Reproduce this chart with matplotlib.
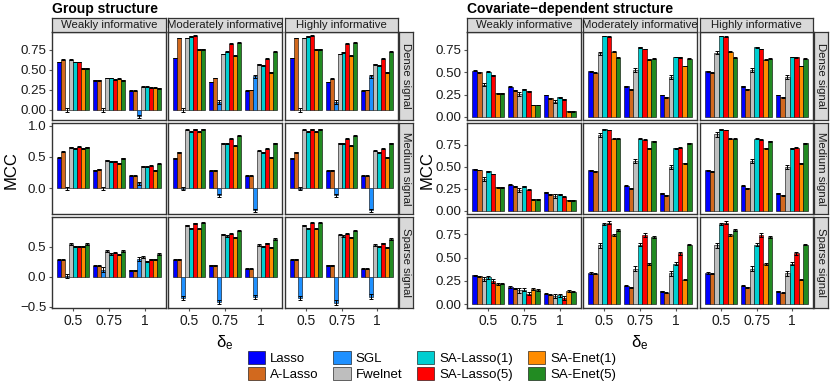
import matplotlib
matplotlib.use('Agg')
import matplotlib.pyplot as plt
import numpy as np
from matplotlib.patches import Patch

plt.rcParams['font.family'] = ['Liberation Sans', 'DejaVu Sans']

# categories
deltas = ['0.5', '0.75', '1']
info_levels = ['Weakly informative', 'Moderately informative', 'Highly informative']
signals = ['Dense signal', 'Medium signal', 'Sparse signal']

methods_group = ['Lasso', 'A-Lasso', 'SGL', 'Fwelnet', 'SA-Lasso(1)', 'SA-Lasso(5)', 'SA-Enet(1)', 'SA-Enet(5)']
methods_cov = ['Lasso', 'A-Lasso', 'Fwelnet', 'SA-Lasso(1)', 'SA-Lasso(5)', 'SA-Enet(1)', 'SA-Enet(5)']
colors = {'Lasso': '#0000FF', 'A-Lasso': '#D2691E', 'SGL': '#1E90FF', 'Fwelnet': '#BEBEBE',
          'SA-Lasso(1)': '#00CED1', 'SA-Lasso(5)': '#FF0000', 'SA-Enet(1)': '#FF8C00',
          'SA-Enet(5)': '#228B22'}

# Group structure: MCC[delta][method]
g_dense_weak = [[0.60, 0.63, 0.00, 0.63, 0.60, 0.60, 0.52, 0.52],
                [0.37, 0.37, 0.00, 0.40, 0.40, 0.38, 0.39, 0.37],
                [0.24, 0.24, -0.08, 0.29, 0.29, 0.28, 0.28, 0.27]]
g_dense_mod = [[0.65, 0.90, 0.00, 0.90, 0.92, 0.93, 0.76, 0.76],
               [0.35, 0.40, 0.10, 0.70, 0.73, 0.83, 0.68, 0.84],
               [0.24, 0.25, 0.42, 0.57, 0.56, 0.64, 0.47, 0.73]]
g_dense_high = [[0.65, 0.90, 0.00, 0.90, 0.92, 0.93, 0.76, 0.76],
                [0.35, 0.39, 0.10, 0.70, 0.72, 0.83, 0.68, 0.84],
                [0.24, 0.25, 0.42, 0.57, 0.56, 0.64, 0.47, 0.73]]
g_med_weak = [[0.49, 0.585, 0.00, 0.65, 0.64, 0.665, 0.64, 0.65],
              [0.29, 0.30, 0.00, 0.45, 0.43, 0.43, 0.40, 0.48],
              [0.20, 0.20, 0.08, 0.35, 0.34, 0.36, 0.29, 0.39]]
g_med_mod = [[0.48, 0.57, -0.01, 0.93, 0.90, 0.94, 0.90, 0.94],
             [0.28, 0.29, -0.11, 0.72, 0.71, 0.79, 0.675, 0.835],
             [0.20, 0.20, -0.35, 0.60, 0.57, 0.63, 0.495, 0.72]]
g_med_high = [[0.48, 0.57, -0.01, 0.93, 0.90, 0.94, 0.90, 0.94],
              [0.28, 0.29, -0.11, 0.72, 0.71, 0.79, 0.675, 0.835],
              [0.20, 0.20, -0.35, 0.60, 0.57, 0.63, 0.495, 0.72]]
g_sparse_weak = [[0.28, 0.28, 0.01, 0.545, 0.51, 0.51, 0.51, 0.545],
                 [0.18, 0.18, 0.12, 0.43, 0.38, 0.40, 0.37, 0.43],
                 [0.105, 0.105, 0.29, 0.33, 0.26, 0.29, 0.29, 0.38]]
g_sparse_mod = [[0.28, 0.29, -0.36, 0.86, 0.81, 0.89, 0.80, 0.90],
                [0.195, 0.195, -0.42, 0.71, 0.68, 0.72, 0.66, 0.77],
                [0.13, 0.13, -0.34, 0.53, 0.51, 0.56, 0.49, 0.63]]
g_sparse_high = [[0.28, 0.29, -0.36, 0.86, 0.81, 0.90, 0.80, 0.90],
                 [0.195, 0.195, -0.43, 0.70, 0.68, 0.72, 0.66, 0.77],
                 [0.13, 0.13, -0.33, 0.53, 0.51, 0.56, 0.49, 0.63]]
g_err_dense = [0.006, 0.006, 0.02, 0.006, 0.006, 0.006, 0.006, 0.006]
g_err_med = [0.008, 0.008, 0.025, 0.008, 0.008, 0.008, 0.008, 0.008]
g_err_sparse = [0.008, 0.008, 0.035, 0.01, 0.01, 0.01, 0.01, 0.01]

# Covariate-dependent structure: MCC[delta][method]
c_dense_weak = [[0.515, 0.50, 0.36, 0.505, 0.465, 0.265, 0.265],
                [0.335, 0.30, 0.255, 0.31, 0.285, 0.133, 0.133],
                [0.245, 0.21, 0.17, 0.22, 0.195, 0.063, 0.063]]
c_dense_mod = [[0.51, 0.495, 0.71, 0.905, 0.895, 0.73, 0.66],
               [0.34, 0.31, 0.525, 0.78, 0.76, 0.64, 0.65],
               [0.245, 0.22, 0.445, 0.67, 0.665, 0.57, 0.65]]
c_dense_high = [[0.51, 0.495, 0.72, 0.905, 0.895, 0.73, 0.66],
                [0.34, 0.31, 0.525, 0.78, 0.76, 0.64, 0.65],
                [0.245, 0.22, 0.445, 0.67, 0.665, 0.57, 0.65]]
c_med_weak = [[0.475, 0.465, 0.365, 0.45, 0.42, 0.27, 0.27],
              [0.30, 0.28, 0.24, 0.28, 0.24, 0.135, 0.135],
              [0.21, 0.19, 0.17, 0.19, 0.16, 0.12, 0.12]]
c_med_mod = [[0.46, 0.45, 0.865, 0.93, 0.92, 0.82, 0.82],
             [0.285, 0.26, 0.57, 0.82, 0.81, 0.71, 0.79],
             [0.20, 0.18, 0.50, 0.71, 0.72, 0.54, 0.77]]
c_med_high = [[0.46, 0.45, 0.87, 0.93, 0.92, 0.82, 0.82],
              [0.285, 0.26, 0.57, 0.82, 0.81, 0.71, 0.79],
              [0.20, 0.18, 0.50, 0.71, 0.72, 0.54, 0.77]]
c_sparse_weak = [[0.31, 0.30, 0.27, 0.29, 0.25, 0.215, 0.22],
                 [0.185, 0.17, 0.15, 0.155, 0.115, 0.16, 0.155],
                 [0.115, 0.10, 0.09, 0.095, 0.065, 0.145, 0.135]]
c_sparse_mod = [[0.335, 0.325, 0.63, 0.86, 0.875, 0.74, 0.795],
                [0.20, 0.18, 0.38, 0.64, 0.74, 0.43, 0.72],
                [0.14, 0.125, 0.33, 0.435, 0.545, 0.265, 0.64]]
c_sparse_high = [[0.335, 0.325, 0.63, 0.86, 0.875, 0.74, 0.795],
                 [0.20, 0.18, 0.38, 0.64, 0.74, 0.43, 0.72],
                 [0.14, 0.125, 0.33, 0.435, 0.545, 0.265, 0.64]]
c_err_dense = [0.005, 0.005, 0.02, 0.005, 0.005, 0.005, 0.005]
c_err_med = [0.005, 0.005, 0.025, 0.005, 0.005, 0.006, 0.006]
c_err_sparse = [0.006, 0.006, 0.025, 0.015, 0.02, 0.01, 0.008]

group_data = [[g_dense_weak, g_dense_mod, g_dense_high],
              [g_med_weak, g_med_mod, g_med_high],
              [g_sparse_weak, g_sparse_mod, g_sparse_high]]
group_err = [g_err_dense, g_err_med, g_err_sparse]
cov_data = [[c_dense_weak, c_dense_mod, c_dense_high],
            [c_med_weak, c_med_mod, c_med_high],
            [c_sparse_weak, c_sparse_mod, c_sparse_high]]
cov_err = [c_err_dense, c_err_med, c_err_sparse]

W, H = 830, 381
fig = plt.figure(figsize=(W / 100, H / 100), dpi=100)

rows_px = [(32, 120), (123, 214), (217, 308)]
strip_top = 18
group_cols = [(52, 166), (168, 282), (285, 398)]
cov_cols = [(467, 581), (583, 697), (700, 813)]

group_ylims = [(-0.125, 0.975), (-0.41, 1.04), (-0.52, 0.995)]
group_yticks = [([0, 0.25, 0.5, 0.75], '{:.2f}'), ([0, 0.5, 1.0], '{:.1f}'), ([-0.5, 0, 0.5], '{:.1f}')]
cov_ylims = [(-0.035, 0.95), (-0.035, 1.0), (-0.04, 0.935)]
cov_yticks = [([0, 0.25, 0.5, 0.75], '{:.2f}')] * 3

edge = '#333333'
strip_fc = '#D9D9D9'


def add_ax(x0, x1, y0, y1):
    return fig.add_axes([x0 / W, 1 - y1 / H, (x1 - x0) / W, (y1 - y0) / H])


def strip(x0, x1, y0, y1, text, rot=0):
    a = add_ax(x0, x1, y0, y1)
    a.set_xticks([])
    a.set_yticks([])
    a.set_facecolor(strip_fc)
    for s in a.spines.values():
        s.set_color(edge)
        s.set_linewidth(0.9)
    a.text(0.5, 0.5, text, ha='center', va='center', rotation=rot,
           fontsize=8.2, color='#1A1A1A', transform=a.transAxes)


def draw_panel(cols, data, errs, methods, ylims, yticks, title, right_strip_x):
    n = len(methods)
    w = 0.9 / n
    x = np.arange(len(deltas))
    for r, (y0, y1) in enumerate(rows_px):
        for c, (x0, x1) in enumerate(cols):
            ax = add_ax(x0, x1, y0, y1)
            vals = np.array(data[r][c])
            for i, m in enumerate(methods):
                ax.bar(x + (i - (n - 1) / 2) * w, vals[:, i], width=w,
                       color=colors[m], edgecolor='black', linewidth=0.4)
                ax.errorbar(x + (i - (n - 1) / 2) * w, vals[:, i], yerr=errs[r][i],
                            fmt='none', ecolor='black', elinewidth=0.7, capsize=1.2,
                            capthick=0.7)
            ax.set_xlim(-0.6, 2.6)
            ax.set_ylim(*ylims[r])
            for s in ax.spines.values():
                s.set_color(edge)
                s.set_linewidth(1.0)
            if c == 0:
                ticks, fmt = yticks[r]
                ax.set_yticks(ticks)
                ax.set_yticklabels([fmt.format(t).replace('-', '\u2212') for t in ticks],
                                   fontsize=9.6, color='#1A1A1A')
                ax.tick_params(axis='y', length=2.5, color='#555555', pad=1.5)
            else:
                ax.set_yticks([])
            if r == 2:
                ax.set_xticks(x)
                ax.set_xticklabels(deltas, fontsize=10, color='#1A1A1A')
                ax.tick_params(axis='x', length=2.5, color='#555555', pad=1.5)
            else:
                ax.set_xticks([])
            if r == 0:
                strip(x0, x1, strip_top, y0, info_levels[c])
        strip(right_strip_x, right_strip_x + 14, y0, y1, signals[r], rot=-90)
    fig.text(cols[0][0] / W, 1 - 9 / H, title, fontsize=10, fontweight='bold',
             ha='left', va='center')
    mid = (cols[0][0] + cols[-1][1]) / 2
    fig.text(mid / W, 1 - 343 / H, r'$\mathregular{\delta_e}$', fontsize=12,
             ha='center', va='center')


draw_panel(group_cols, group_data, group_err, methods_group, group_ylims,
           group_yticks, 'Group structure', 399)
draw_panel(cov_cols, cov_data, cov_err, methods_cov, cov_ylims,
           cov_yticks, 'Covariate\u2212dependent structure', 814)

fig.text(11 / W, 1 - 170 / H, 'MCC', fontsize=12, rotation=90, ha='center', va='center')
fig.text(427 / W, 1 - 170 / H, 'MCC', fontsize=12, rotation=90, ha='center', va='center')

handles = [Patch(facecolor=colors[m], edgecolor='black', linewidth=0.4, label=m)
           for m in methods_group]
fig.legend(handles=handles, ncol=4, loc='center', bbox_to_anchor=(432 / W, 1 - 366 / H),
           frameon=False, fontsize=9.5, handlelength=1.3, handleheight=1.15,
           columnspacing=1.1, handletextpad=0.4, labelspacing=0.1, borderpad=0)

fig.savefig('out.png', dpi=100)
